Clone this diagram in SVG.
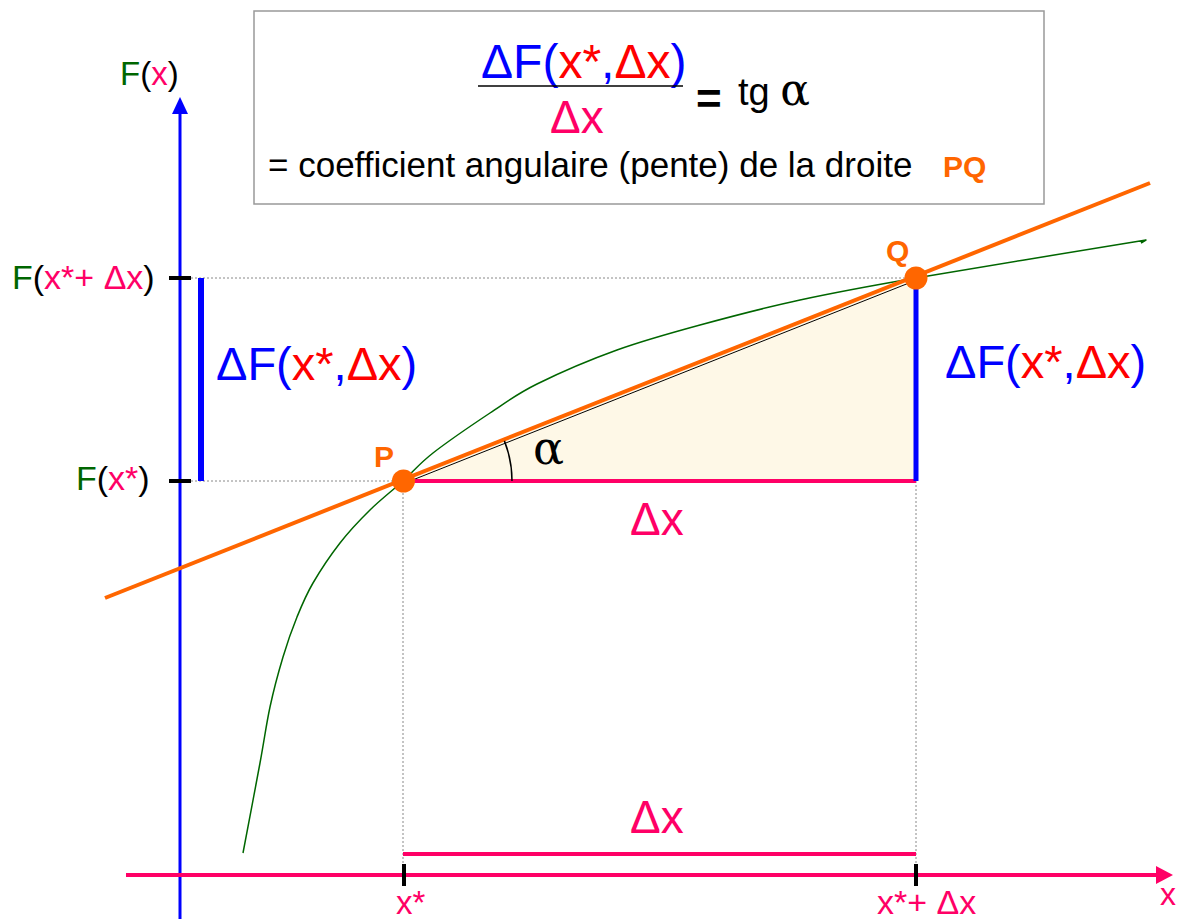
<svg xmlns="http://www.w3.org/2000/svg" width="1184" height="919" viewBox="0 0 1184 919">
<style>
text{font-family:"Liberation Sans",Arial,sans-serif}
.g{fill:#006600}.k{fill:#000}.p{fill:#FF0066}.r{fill:#FF0000}.b{fill:#0000FF}.o{fill:#FF6600}
.dot{stroke:#888;stroke-width:1;stroke-dasharray:2,2;fill:none}
.ser{font-family:"DejaVu Serif","Liberation Serif",serif}
</style>
<rect width="1184" height="919" fill="#fff"/>

<g id="triangle">
<polygon points="403,481 916,278 916,481" fill="#FEF8E7"/>
<line x1="405" y1="483" x2="914" y2="281" stroke="#000" stroke-width="1"/>
</g>

<g id="guides">
<line class="dot" x1="191" y1="278" x2="916" y2="278"/>
<line class="dot" x1="191" y1="481" x2="403" y2="481"/>
<line class="dot" x1="403" y1="481" x2="403" y2="864"/>
<line class="dot" x1="916" y1="481" x2="916" y2="864"/>
</g>

<g id="axes">
<line x1="180" y1="919" x2="180" y2="112" stroke="#0000FF" stroke-width="3"/>
<polygon points="180,97 172,114 188,114" fill="#0000FF"/>
<line x1="126" y1="875" x2="1157" y2="875" stroke="#FF0066" stroke-width="4"/>
<polygon points="1173,875 1156,866 1156,884" fill="#FF0066"/>
<line x1="169" y1="278" x2="191" y2="278" stroke="#000" stroke-width="4"/>
<line x1="169" y1="481" x2="191" y2="481" stroke="#000" stroke-width="4"/>
<line x1="404" y1="864" x2="404" y2="886" stroke="#000" stroke-width="4"/>
<line x1="916" y1="864" x2="916" y2="886" stroke="#000" stroke-width="4"/>
</g>

<g id="connectors">
<path d="M243,853 C245.8,838 255.5,787.3 260,763 C264.5,738.7 266.2,724.7 270,707 C273.8,689.3 278.5,672 283,657 C287.5,642 292,629.3 297,617 C302,604.7 305.8,595.3 313,583 C320.2,570.7 330.5,555.2 340,543 C349.5,530.8 359.5,520.3 370,510 C380.5,499.7 392.5,490.5 403,481 C413.5,471.5 418.5,464.3 433,453 C447.5,441.7 472.7,424.5 490,413 C507.3,401.5 515.8,394.5 537,384 C558.2,373.5 589.8,359.8 617,350 C644.2,340.2 669.5,333.3 700,325 C730.5,316.7 764,307.8 800,300 C836,292.2 858.3,288 916,278 C973.7,268 1107.7,246.3 1146,240 L1141,243" fill="none" stroke="#006600" stroke-width="1.5" stroke-linejoin="round"/>
<line x1="105" y1="598" x2="1150" y2="183" stroke="#FF6600" stroke-width="4"/>
<line x1="403" y1="481" x2="916" y2="481" stroke="#FF0066" stroke-width="4"/>
<line x1="916" y1="281" x2="916" y2="481" stroke="#0000FF" stroke-width="5"/>
<line x1="201" y1="278" x2="201" y2="481" stroke="#0000FF" stroke-width="6"/>
<line x1="403" y1="854" x2="916" y2="854" stroke="#FF0066" stroke-width="4"/>
<path d="M504.4,440.9 A109,109 0 0 1 512,481" fill="none" stroke="#000" stroke-width="1.5"/>
</g>

<g id="P">
<circle cx="403.5" cy="481" r="11.5" fill="#FF6600"/>
<text x="374" y="467" font-size="30" font-weight="bold" class="o">P</text>
</g>
<g id="Q">
<circle cx="916" cy="278" r="11.5" fill="#FF6600"/>
<text x="886" y="261" font-size="30" font-weight="bold" class="o">Q</text>
</g>

<g id="header">
<rect x="254" y="11" width="790" height="193" fill="#fff" stroke="#999" stroke-width="1.5"/>
<text x="481" y="78" font-size="48"><tspan class="b">ΔF(</tspan><tspan class="r">x*</tspan><tspan class="b">,</tspan><tspan class="r">Δx</tspan><tspan class="b">)</tspan></text>
<line x1="478" y1="86" x2="683" y2="86" stroke="#000" stroke-width="1.5"/>
<text x="550" y="133" font-size="46" class="p">Δx</text>
<text x="696" y="114" font-size="44" font-weight="bold" class="k">=</text>
<text x="738" y="105" font-size="38" class="k">tg <tspan class="ser" font-size="44">α</tspan></text>
<text x="268" y="177" font-size="35" class="k">= coefficient angulaire (pente) de la droite</text>
<text x="943" y="177" font-size="30" font-weight="bold" class="o">PQ</text>
</g>

<g id="labels">
<text x="120" y="85" font-size="33"><tspan class="g">F</tspan><tspan class="k">(</tspan><tspan class="p">x</tspan><tspan class="k">)</tspan></text>
<text x="12" y="289" font-size="34"><tspan class="g">F</tspan><tspan class="k">(</tspan><tspan class="p">x*+ Δx</tspan><tspan class="k">)</tspan></text>
<text x="76" y="490" font-size="34"><tspan class="g">F</tspan><tspan class="k">(</tspan><tspan class="p">x*</tspan><tspan class="k">)</tspan></text>
<text x="216" y="380" font-size="47"><tspan class="b">ΔF(</tspan><tspan class="r">x*</tspan><tspan class="b">,</tspan><tspan class="r">Δx</tspan><tspan class="b">)</tspan></text>
<text x="945" y="378" font-size="47"><tspan class="b">ΔF(</tspan><tspan class="r">x*</tspan><tspan class="b">,</tspan><tspan class="r">Δx</tspan><tspan class="b">)</tspan></text>
<text x="630" y="535" font-size="46" class="p">Δx</text>
<text x="630" y="833" font-size="46" class="p">Δx</text>
<text x="533" y="464" font-size="46" class="ser k">α</text>
<text x="396" y="914" font-size="33" class="p">x*</text>
<text x="877" y="914" font-size="34" class="p">x*+ Δx</text>
<text x="1160" y="905" font-size="32" class="p">x</text>
</g>
</svg>
